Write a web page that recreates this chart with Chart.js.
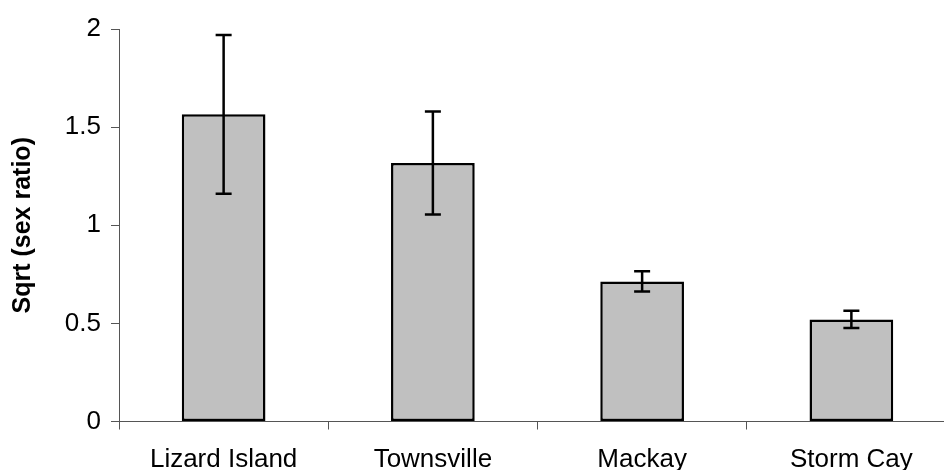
<!DOCTYPE html>
<html>
<head>
<meta charset="utf-8">
<script src="https://cdn.jsdelivr.net/npm/chart.js@4/dist/chart.umd.min.js"></script>
<style>
html,body{margin:0;padding:0;background:#fff;overflow:hidden;width:944px;height:470px;}
canvas{display:block;}
</style>
</head>
<body>
<canvas id="c" width="966" height="470"></canvas>
<script>
const categories = ["Lizard Island", "Townsville", "Mackay", "Storm Cay"];
const values = [1.565, 1.317, 0.714, 0.520];
const errors = [0.405, 0.262, 0.052, 0.044];
const yTicks = [0, 0.5, 1, 1.5, 2];
const yTitle = "Sqrt (sex ratio)";

const errorBarPlugin = {
  id: 'errorBars',
  afterDatasetsDraw(chart) {
    const ctx = chart.ctx;
    const meta = chart.getDatasetMeta(0);
    const y = chart.scales.y;
    ctx.save();
    ctx.strokeStyle = '#000';
    ctx.lineWidth = 2.5;
    meta.data.forEach((bar, i) => {
      const x = bar.x;
      const top = y.getPixelForValue(values[i] + errors[i]);
      const bot = y.getPixelForValue(values[i] - errors[i]);
      const cap = 8;
      ctx.beginPath();
      ctx.moveTo(x, top); ctx.lineTo(x, bot);
      ctx.moveTo(x - cap, top); ctx.lineTo(x + cap, top);
      ctx.moveTo(x - cap, bot); ctx.lineTo(x + cap, bot);
      ctx.stroke();
    });
    ctx.restore();
  }
};

const fam = "'Liberation Sans', Arial, sans-serif";
const font = { family: fam, size: 26 };

new Chart(document.getElementById('c'), {
  type: 'bar',
  data: {
    labels: categories,
    datasets: [{
      data: values,
      backgroundColor: '#c0c0c0',
      borderColor: '#000',
      borderWidth: 2.5,
      borderSkipped: false,
      categoryPercentage: 1,
      barPercentage: 0.4
    }]
  },
  options: {
    responsive: false,
    animation: false,
    devicePixelRatio: 1,
    layout: { padding: { top: 29, right: 10, left: 0, bottom: 0 } },
    plugins: { legend: { display: false }, tooltip: { enabled: false } },
    scales: {
      x: {
        offset: true,
        grid: { offset: true, drawOnChartArea: false, drawTicks: true, tickLength: 8, color: '#555', lineWidth: 1 },
        border: { display: true, color: '#555', width: 1 },
        ticks: { color: '#000', font: font, padding: 15, maxRotation: 0, autoSkip: false },
        afterFit(scale) { scale.height = 48.5; }
      },
      y: {
        min: 0, max: 2,
        afterBuildTicks(scale) { scale.ticks = yTicks.map(v => ({ value: v })); },
        grid: { drawOnChartArea: false, drawTicks: true, tickLength: 8, color: '#555', lineWidth: 1 },
        border: { display: true, color: '#555', width: 1 },
        ticks: { color: '#000', font: font, padding: 10, callback: v => String(v) },
        title: { display: true, text: yTitle, color: '#000', font: { family: fam, size: 25, weight: 'bold' }, padding: { top: 8, bottom: 0 } },
        afterFit(scale) { scale.width = 119; }
      }
    }
  },
  plugins: [errorBarPlugin]
});
</script>
</body>
</html>
